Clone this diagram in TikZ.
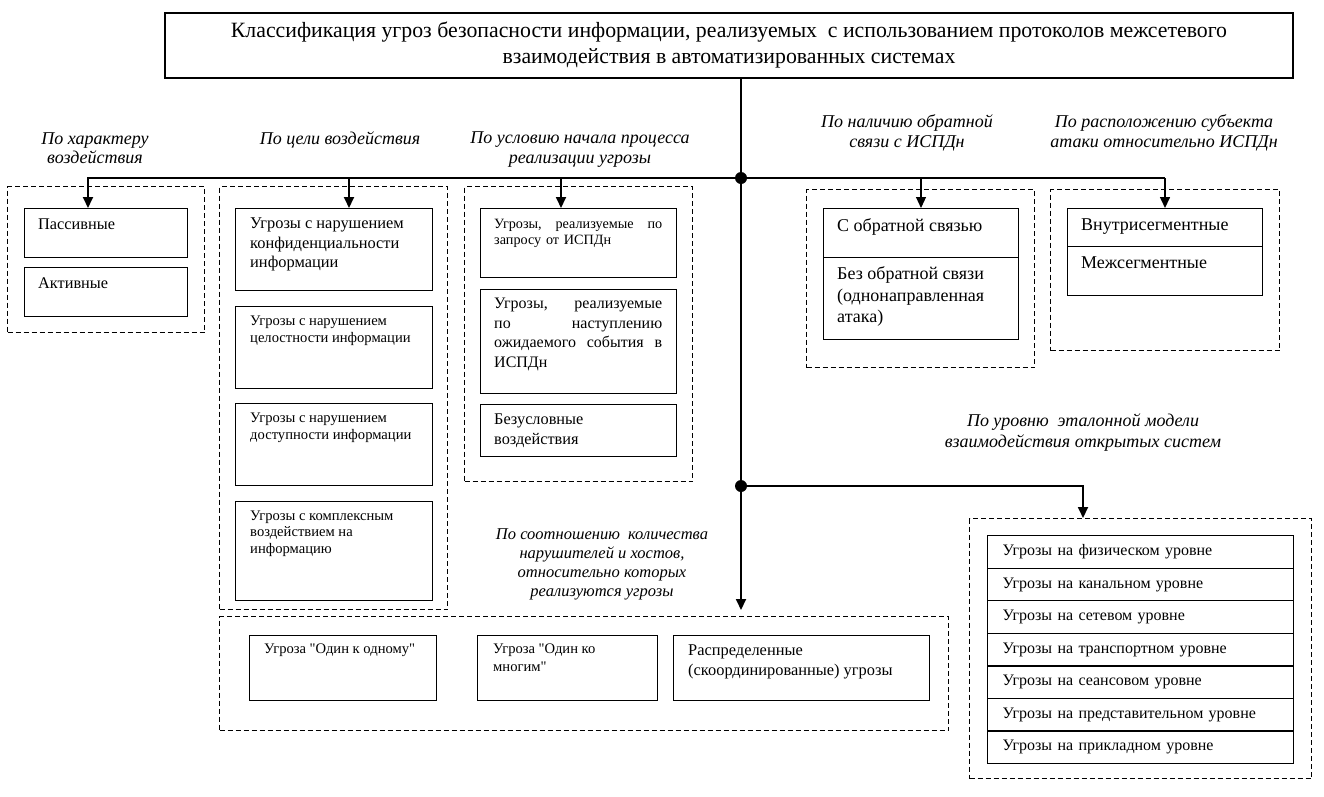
\documentclass[tikz,border=0pt]{standalone}
\usepackage{fontspec}
\setmainfont{Liberation Serif}
\usetikzlibrary{positioning,arrows.meta}

\begin{document}
\begin{tikzpicture}[x=1pt,y=-1pt,
  frame/.style={draw,dash pattern=on 5pt off 3pt,line width=1pt,anchor=north west,inner sep=0pt},
  cell/.style={draw,line width=1.3pt,anchor=north west,inner sep=0pt},
  celltext/.style={inner sep=0pt,align=left,font=\fontsize{16.3}{19.5}\selectfont},
  crit/.style={anchor=north,inner sep=0pt,align=center,font=\fontsize{18}{20}\selectfont\itshape},
  bus/.style={line width=1.8pt},
  arr/.style={line width=1.8pt,-{Triangle[length=11pt,width=10pt]}},
  dot/.style={circle,fill,inner sep=0pt,minimum size=12pt}]
\useasboundingbox (0,0) rectangle (1324,796);

% title and trunk
\node[draw,line width=1.3pt,minimum width=1128,minimum height=65,align=center,
  font=\fontsize{21.8}{26}\selectfont] (title) at (729,45.5)
  {Классификация угроз безопасности информации, реализуемых~ с использованием протоколов межсетевого\\
   взаимодействия в автоматизированных системах};
\node[dot] (j1) at (741,178) {};
\node[dot] (j2) at (741,486) {};
\coordinate (b1) at (88,178);
\coordinate (b2) at (349,178);
\coordinate (b3) at (561,178);
\coordinate (b4) at (921,178);
\coordinate (b5) at (1165,178);
\coordinate (b6) at (1083,486);

% dashed groups
\node[frame,minimum width=197,minimum height=146] (fr1) at (7,186) {};
\node[frame,minimum width=228,minimum height=423] (fr2) at (219,186) {};
\node[frame,minimum width=228,minimum height=295] (fr3) at (464,186) {};
\node[frame,minimum width=228,minimum height=178] (fr4) at (806,189) {};
\node[frame,minimum width=229,minimum height=161] (fr5) at (1050,189) {};
\node[frame,minimum width=342,minimum height=260] (fr6) at (969,518) {};
\node[frame,minimum width=729,minimum height=114] (fr7) at (219,616) {};

% criteria
\node[crit,font=\fontsize{18}{19}\selectfont\itshape] (l1) at (95,132.9) {По характеру\\воздействия};
\node[crit] (l2) at (340,131.9) {По цели воздействия};
\node[crit] (l3) at (580,131.9) {По условию начала процесса\\реализации угрозы};
\node[crit] (l4) at (907,114.9) {По наличию обратной\\связи с ИСПДн};
\node[crit] (l5) at (1164,114.9) {По расположению субъекта\\атаки относительно ИСПДн};
\node[crit,font=\fontsize{18}{21}\selectfont\itshape] (l6) at (1083,413.9) {По уровню~ эталонной модели\\взаимодействия открытых систем};
\node[crit,font=\fontsize{16.5}{19}\selectfont\itshape] (l7) at (602,528.6)
  {По соотношению~ количества\\нарушителей и хостов,\\относительно которых\\реализуются угрозы};

% by nature
\node[cell,minimum width=163,minimum height=49] (pas) at (24,208) {};
\node[cell,minimum width=163,minimum height=49] (akt) at (24,267) {};
\node[celltext,below right=10.7pt and 14pt of pas.north west] (pas-t) {Пассивные};
\node[celltext,below right=10.7pt and 14pt of akt.north west] (akt-t) {Активные};

% by aim
\node[cell,minimum width=197,minimum height=82] (aim1) at (235,208) {};
\node[cell,minimum width=197,minimum height=82] (aim2) at (235,306) {};
\node[cell,minimum width=197,minimum height=82] (aim3) at (235,403) {};
\node[cell,minimum width=197,minimum height=99] (aim4) at (235,501) {};
\node[celltext,font=\fontsize{16.4}{19.5}\selectfont,below right=9.6pt and 15pt of aim1.north west] (aim1-t)
  {Угрозы с нарушением\\конфиденциальности\\информации};
\node[celltext,font=\fontsize{14.6}{17}\selectfont,below right=9.4pt and 15pt of aim2.north west] (aim2-t)
  {Угрозы с нарушением\\целостности информации};
\node[celltext,font=\fontsize{14.6}{17}\selectfont,below right=9.4pt and 15pt of aim3.north west] (aim3-t)
  {Угрозы с нарушением\\доступности информации};
\node[celltext,font=\fontsize{14.6}{16.5}\selectfont,below right=9.4pt and 15pt of aim4.north west] (aim4-t)
  {Угрозы с комплексным\\воздействием на\\информацию};

% by start condition
\node[cell,minimum width=196,minimum height=69] (cond1) at (480,208) {};
\node[cell,minimum width=196,minimum height=104] (cond2) at (480,289) {};
\node[cell,minimum width=196,minimum height=52] (cond3) at (480,404) {};
\node[celltext,text width=168,font=\fontsize{14.2}{16}\selectfont,below right=10.6pt and 14pt of cond1.north west] (cond1-t)
  {Угрозы,\hfill реализуемые\hfill по\\запросу от ИСПДн};
\node[celltext,text width=168,font=\fontsize{16}{19.7}\selectfont,below right=8.8pt and 14pt of cond2.north west] (cond2-t)
  {Угрозы,\hfill реализуемые\\по\hfill наступлению\\ожидаемого\hfill события\hfill в\\ИСПДн};
\node[celltext,below right=9.7pt and 14pt of cond3.north west] (cond3-t)
  {Безусловные\\воздействия};

% by feedback
\node[cell,minimum width=195,minimum height=49] (fb1) at (823,208) {};
\node[cell,minimum width=195,minimum height=82] (fb2) at (823,257) {};
\node[celltext,font=\fontsize{18}{21.5}\selectfont,below right=10.9pt and 14pt of fb1.north west] (fb1-t)
  {С обратной связью};
\node[celltext,font=\fontsize{18}{21.5}\selectfont,below right=9.9pt and 14pt of fb2.north west] (fb2-t)
  {Без обратной связи\\(однонаправленная\\атака)};

% by location
\node[cell,minimum width=195,minimum height=38] (seg1) at (1067,208) {};
\node[cell,minimum width=195,minimum height=49] (seg2) at (1067,246) {};
\node[celltext,font=\fontsize{18}{20}\selectfont,below right=10.9pt and 14pt of seg1.north west] (seg1-t)
  {Внутрисегментные};
\node[celltext,font=\fontsize{18}{20}\selectfont,below right=10.9pt and 14pt of seg2.north west] (seg2-t)
  {Межсегментные};

% OSI levels
\foreach \lvl [count=\i from 0] in {физическом,канальном,сетевом,транспортном,сеансовом,представительном,прикладном}
  \node[cell,minimum width=306,minimum height=32.57,text width=276,inner xsep=15pt,align=left,
    font=\fontsize{16}{17}\selectfont] (osi\i) at (987,{535+32.57*\i}) {Угрозы на \lvl\ уровне};

% by number of intruders
\node[cell,minimum width=187,minimum height=65] (num1) at (249,635) {};
\node[cell,minimum width=180,minimum height=65] (num2) at (477,635) {};
\node[cell,minimum width=256,minimum height=65] (num3) at (673,635) {};
\node[celltext,font=\fontsize{14.6}{18}\selectfont,below right=8.4pt and 15pt of num1.north west] (num1-t)
  {Угроза \textquotedbl Один к одному\textquotedbl};
\node[celltext,font=\fontsize{14.6}{18}\selectfont,below right=8.4pt and 16pt of num2.north west] (num2-t)
  {Угроза \textquotedbl Один ко\\многим\textquotedbl};
\node[celltext,font=\fontsize{16.4}{20}\selectfont,below right=9.6pt and 15pt of num3.north west] (num3-t)
  {Распределенные\\(скоординированные) угрозы};

% connectors
\draw[line width=1.3pt] (j1 |- title.south) -- (j1);
\draw[arr] (j1) -- (b1) -- (b1 |- pas.north);
\draw[arr] (b2) -- (b2 |- aim1.north);
\draw[arr] (b3) -- (b3 |- cond1.north);
\draw[line width=1.2pt] (j1) -- (b5);
\draw[arr,line width=1.1pt] (b4) -- (b4 |- fb1.north);
\draw[arr,line width=1.5pt] (b5) -- (b5 |- seg1.north);
\draw[bus] (j1) -- (j2);
\draw[arr] (j2) -- (b6) -- (b6 |- fr6.north);
\draw[arr,shorten >=6pt] (j2) -- (j2 |- fr7.north);
\end{tikzpicture}
\end{document}
